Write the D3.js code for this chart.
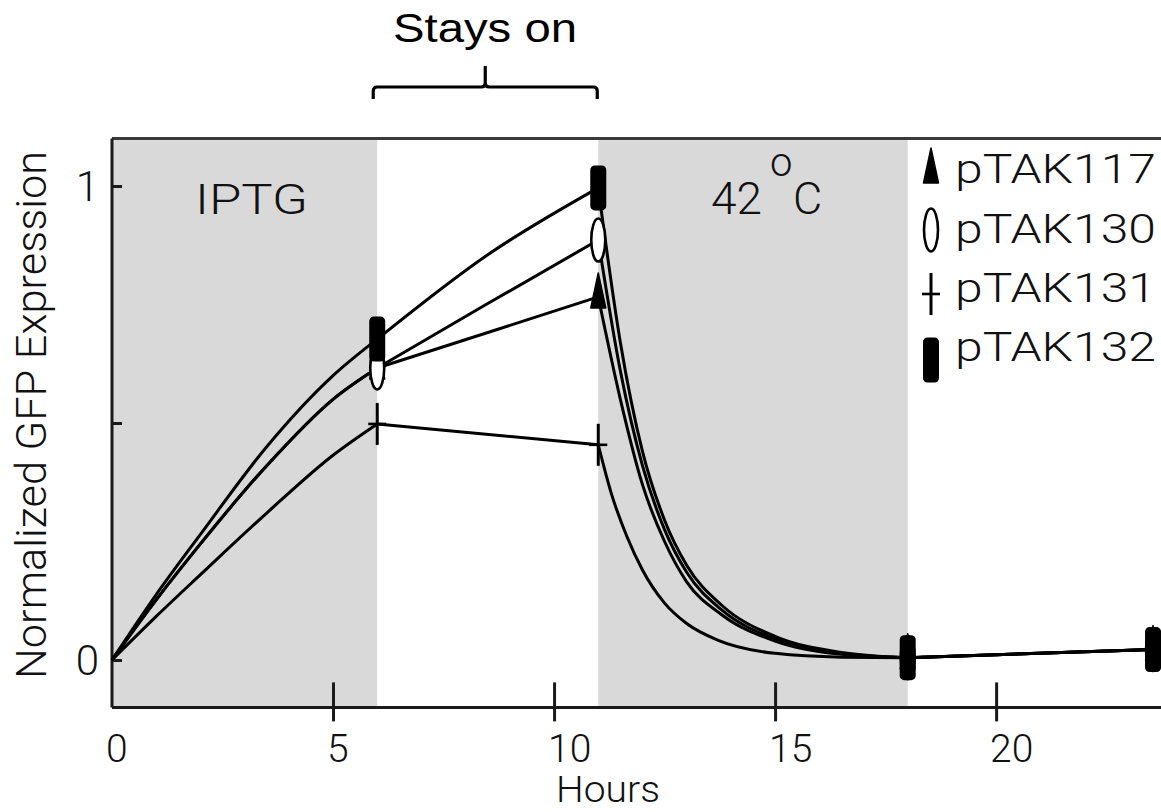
<!DOCTYPE html>
<html>
<head>
<meta charset="utf-8">
<script src="https://cdn.jsdelivr.net/npm/d3@7"></script>
<style>
  html, body { margin: 0; padding: 0; background: #ffffff; }
  svg { display: block; }
  .lt { font-family: Roboto, "Liberation Sans", Arial, sans-serif; font-weight: 300; fill: #111; }
  .rg { font-family: "Liberation Sans", Arial, sans-serif; font-weight: 400; fill: #000; }
</style>
</head>
<body>
<svg id="chart" width="1161" height="812"></svg>
<script>
// ---------- data ----------
const seriesNames = ["pTAK117", "pTAK130", "pTAK131", "pTAK132"];
const markerTypes = ["triangle", "ellipse", "cross", "square"];

const hours117  = [0, 1, 2, 3.5, 5, 6, 11, 11.5, 12, 12.5, 13, 13.8, 15, 16.5, 18, 23.55];
const values117 = [0, 0.127, 0.245, 0.41, 0.55, 0.616, 0.766, 0.55, 0.37, 0.25, 0.165, 0.095, 0.04, 0.012, 0.005, 0.022];

const hours130  = [0, 1, 2, 3.5, 5, 6, 8.5, 11, 11.5, 12, 12.5, 13, 13.8, 15, 16.5, 18, 23.55];
const values130 = [0, 0.127, 0.245, 0.41, 0.55, 0.616, 0.752, 0.886, 0.61, 0.41, 0.275, 0.185, 0.105, 0.045, 0.014, 0.005, 0.022];

const hours131  = [0, 1, 2, 3.5, 5, 6, 11, 11.3, 11.65, 12, 12.5, 13, 13.7, 15, 16.5, 18, 23.55];
const values131 = [0, 0.092, 0.18, 0.31, 0.432, 0.498, 0.454, 0.35, 0.26, 0.19, 0.12, 0.077, 0.042, 0.014, 0.006, 0.005, 0.022];

const hours132  = [0, 1, 2, 3.5, 5, 6, 8.5, 11, 11.5, 12, 12.5, 13, 13.8, 15, 16.5, 18, 23.55];
const values132 = [0, 0.138, 0.265, 0.45, 0.6, 0.677, 0.855, 0.996, 0.67, 0.44, 0.295, 0.2, 0.115, 0.05, 0.016, 0.005, 0.022];

const phaseBreaks = [6, 11, 18];          // hours where the curves have corners
const markerHours = [6, 11, 18, 23.55];   // hours carrying a symbol
const shadedStart = [0, 11];
const shadedEnd   = [6, 18];
const phaseLabels = ["IPTG", "42", "C"];
const bracketFrom = 6, bracketTo = 11;
const bracketLabel = "Stays on";

const xTicks = [0, 5, 10, 15, 20];
const xTickLabels = ["0", "5", "10", "15", "20"];
const yTicks = [0, 0.5, 1];
const yTickLabels = ["0", "", "1"];
const xTitle = "Hours";
const yTitle = "Normalized GFP Expression";

// ---------- scales ----------
const x = d3.scaleLinear().domain([0, 23.73]).range([112, 1161]);
const y = d3.scaleLinear().domain([0, 1]).range([660, 186]);
const yBottom = -0.1, yTop = 1.1;

const svg = d3.select("#chart");

// shaded phases
svg.append("g").selectAll("rect").data(shadedStart).join("rect")
  .attr("x", (d) => x(d))
  .attr("width", (d, i) => x(shadedEnd[i]) - x(d))
  .attr("y", y(yTop))
  .attr("height", y(yBottom) - y(yTop))
  .attr("fill", "#d9d9d9");

// frame top
svg.append("line")
  .attr("x1", x(0)).attr("x2", 1161)
  .attr("y1", y(yTop)).attr("y2", y(yTop))
  .attr("stroke", "#3a3a3a").attr("stroke-width", 3);

// x axis: ticks crossing the axis line
const xAxisG = svg.append("g").attr("transform", `translate(0,${y(yBottom)})`);
xAxisG.call(d3.axisBottom(x).tickValues(xTicks).tickSize(-25).tickSizeOuter(0).tickFormat(""));
xAxisG.append("g").call(d3.axisBottom(x).tickValues(xTicks).tickSize(14).tickSizeOuter(0).tickFormat(""));
xAxisG.selectAll(".domain").attr("stroke", "#1a1a1a").attr("stroke-width", 3)
  .attr("d", `M${x(0)},0H1161`);
xAxisG.selectAll(".tick line").attr("stroke", "#1a1a1a").attr("stroke-width", 3);
xAxisG.selectAll(".tick").filter((d) => d === 0).remove();

// x tick labels
svg.append("g").selectAll("text").data(xTicks).join("text")
  .attr("class", "lt")
  .attr("x", (d) => x(d) - 6)
  .attr("y", 762)
  .attr("font-size", 39)
  .text((d, i) => xTickLabels[i]);

svg.append("text")
  .attr("class", "lt")
  .attr("x", 556).attr("y", 802)
  .attr("font-size", 36)
  .attr("textLength", 104).attr("lengthAdjust", "spacingAndGlyphs")
  .text(xTitle);

// y axis
const yAxisG = svg.append("g").attr("transform", `translate(${x(0)},0)`);
yAxisG.call(d3.axisRight(y).tickValues(yTicks).tickSize(10).tickSizeOuter(0).tickFormat(""));
yAxisG.select(".domain").attr("stroke", "#1a1a1a").attr("stroke-width", 3)
  .attr("d", `M0,${y(yTop)}V${y(yBottom)}`);
yAxisG.selectAll(".tick line").attr("stroke", "#1a1a1a").attr("stroke-width", 3);

svg.append("g").selectAll("text").data(yTicks).join("text")
  .attr("class", "lt")
  .attr("x", 99)
  .attr("y", (d) => y(d))
  .attr("dy", "0.36em")
  .attr("text-anchor", "end")
  .attr("font-size", 42)
  .text((d, i) => yTickLabels[i]);

svg.append("text")
  .attr("class", "lt")
  .attr("transform", `translate(46,${(y(yTop) + y(yBottom)) / 2 - 8}) rotate(-90)`)
  .attr("text-anchor", "middle")
  .attr("font-size", 42)
  .attr("textLength", 528).attr("lengthAdjust", "spacingAndGlyphs")
  .text(yTitle);

// phase labels
svg.append("text").attr("class", "lt").attr("x", 195).attr("y", 214).attr("font-size", 43)
  .attr("textLength", 113).attr("lengthAdjust", "spacingAndGlyphs").text(phaseLabels[0]);
svg.append("text").attr("class", "lt").attr("x", 711).attr("y", 214).attr("font-size", 45)
  .attr("textLength", 51).attr("lengthAdjust", "spacingAndGlyphs").text(phaseLabels[1]);
svg.append("text").attr("class", "lt").attr("x", 770).attr("y", 176).attr("font-size", 40)
  .text("o");
svg.append("text").attr("class", "lt").attr("x", 793).attr("y", 214).attr("font-size", 45)
  .text(phaseLabels[2]);

// bracket "Stays on"
const bl = x(bracketFrom) - 4, br = x(bracketTo) - 1, bm = (bl + br) / 2;
svg.append("path")
  .attr("d", `M${bl},99 L${bl},91 Q${bl},87 ${bl + 4},87 L${bm - 4},87 Q${bm},87 ${bm},83 L${bm},66
              M${bm},83 Q${bm},87 ${bm + 4},87 L${br - 4},87 Q${br},87 ${br},91 L${br},99`)
  .attr("fill", "none").attr("stroke", "#000").attr("stroke-width", 3.2);
svg.append("text").attr("class", "rg").attr("x", 393).attr("y", 42).attr("font-size", 40)
  .attr("textLength", 184).attr("lengthAdjust", "spacingAndGlyphs")
  .text(bracketLabel);

// ---------- curves ----------
const allHours = [hours117, hours130, hours131, hours132];
const allValues = [values117, values130, values131, values132];

function segmentsOf(hs, vs) {
  const segs = [];
  let cur = [];
  hs.forEach((h, i) => {
    cur.push([h, vs[i]]);
    if (phaseBreaks.includes(h)) { segs.push(cur); cur = [[h, vs[i]]]; }
  });
  if (cur.length > 1) segs.push(cur);
  return segs;
}

const line = d3.line().x((d) => x(d[0])).y((d) => y(d[1])).curve(d3.curveMonotoneX);
const curvesG = svg.append("g");
seriesNames.forEach((name, si) => {
  curvesG.selectAll(null).data(segmentsOf(allHours[si], allValues[si])).join("path")
    .attr("d", line)
    .attr("fill", "none").attr("stroke", "#000").attr("stroke-width", 3)
    .attr("stroke-linejoin", "round");
});

// ---------- markers ----------
function drawMarker(g, type, cx, cy) {
  if (type === "triangle") {
    g.append("path").attr("d", `M${cx},${cy - 24} L${cx + 7.5},${cy + 11} L${cx - 7.5},${cy + 11} Z`)
      .attr("fill", "#000").attr("stroke", "#000").attr("stroke-width", 1.5).attr("stroke-linejoin", "round");
  } else if (type === "ellipse") {
    g.append("ellipse").attr("cx", cx).attr("cy", cy).attr("rx", 7).attr("ry", 21.5)
      .attr("fill", "#fff").attr("stroke", "#000").attr("stroke-width", 2.6);
  } else if (type === "cross") {
    g.append("line").attr("x1", cx).attr("x2", cx).attr("y1", cy - 21).attr("y2", cy + 21)
      .attr("stroke", "#000").attr("stroke-width", 3);
    g.append("line").attr("x1", cx - 9).attr("x2", cx + 9).attr("y1", cy).attr("y2", cy)
      .attr("stroke", "#000").attr("stroke-width", 2.6);
  } else {
    g.append("rect").attr("x", cx - 8).attr("y", cy - 22.5).attr("width", 16).attr("height", 45)
      .attr("rx", 4.5).attr("fill", "#000");
  }
}

const markersG = svg.append("g");
seriesNames.forEach((name, si) => {
  allHours[si].forEach((h, i) => {
    if (markerHours.includes(h)) drawMarker(markersG, markerTypes[si], x(h), y(allValues[si][i]));
  });
});

// ---------- legend ----------
const legendBaselines = [183, 243, 302, 361];
const legendMarkerY = [172, 230, 294, 360];
const legendG = svg.append("g");
seriesNames.forEach((name, si) => {
  drawMarker(legendG, markerTypes[si], 931, legendMarkerY[si]);
  legendG.append("text")
    .attr("class", "lt")
    .attr("x", 955).attr("y", legendBaselines[si])
    .attr("font-size", 40)
    .attr("textLength", 201).attr("lengthAdjust", "spacingAndGlyphs")
    .text(name);
});
</script>
</body>
</html>
